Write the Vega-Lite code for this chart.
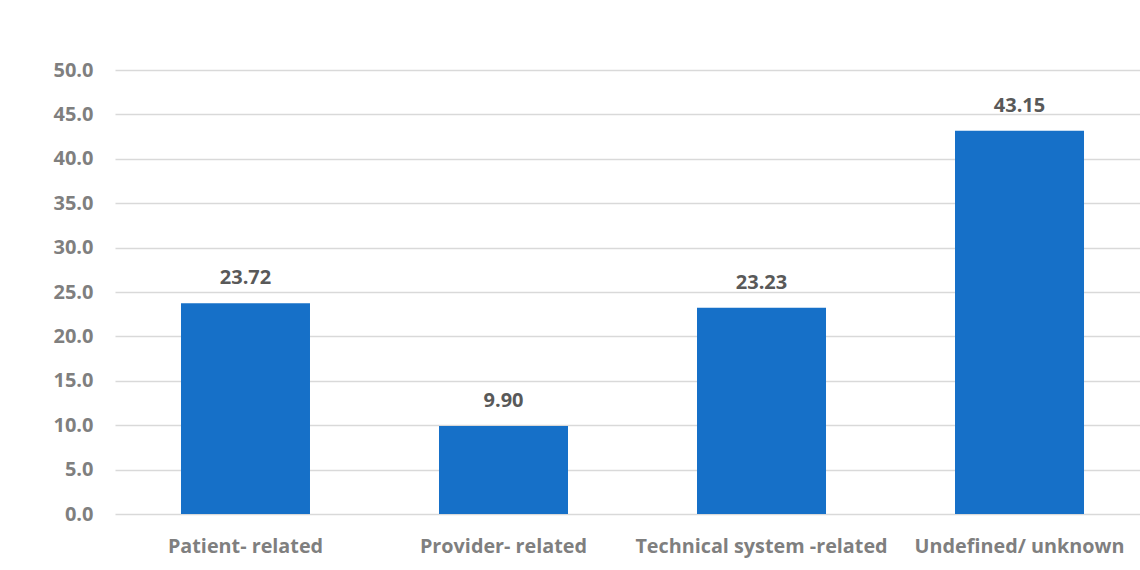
{
  "$schema": "https://vega.github.io/schema/vega-lite/v6.json",
  "autosize": "none",
  "width": 1025,
  "height": 444,
  "padding": {"left": 115, "top": 70, "right": 0, "bottom": 56},
  "background": "white",
  "data": {"values": [
    {"category": "Patient- related", "value": 23.72},
    {"category": "Provider- related", "value": 9.90},
    {"category": "Technical system -related", "value": 23.23},
    {"category": "Undefined/ unknown", "value": 43.15}
  ]},
  "config": {
    "view": {"stroke": null},
    "font": "Open Sans"
  },
  "encoding": {
    "x": {
      "field": "category", "type": "nominal", "sort": null,
      "scale": {"paddingInner": 0.5, "paddingOuter": 0.2364, "align": 0.541},
      "axis": {
        "title": null, "labelAngle": 0, "ticks": false, "domain": false,
        "labelFont": "Open Sans", "labelFontSize": 19.8, "labelFontWeight": "bold",
        "labelColor": "#7f7f7f", "labelPadding": 38, "labelBaseline": "alphabetic",
        "labelLimit": 400
      }
    },
    "y": {
      "field": "value", "type": "quantitative",
      "scale": {"domain": [0, 50], "nice": false},
      "axis": {
        "title": null, "values": [0, 5, 10, 15, 20, 25, 30, 35, 40, 45, 50],
        "format": ".1f", "ticks": false, "domain": false,
        "labelFont": "Open Sans", "labelFontSize": 20, "labelFontWeight": "bold",
        "labelColor": "#7f7f7f", "labelPadding": 22,
        "grid": true, "gridColor": "#d9d9d9", "gridWidth": 1.5
      }
    }
  },
  "layer": [
    {"mark": {"type": "bar", "color": "#1670c8"}},
    {
      "mark": {"type": "text", "baseline": "alphabetic", "dy": -19,
               "font": "Open Sans", "fontSize": 20, "fontWeight": "bold", "color": "#595959"},
      "encoding": {"text": {"field": "value", "type": "quantitative", "format": ".2f"}}
    }
  ]
}
